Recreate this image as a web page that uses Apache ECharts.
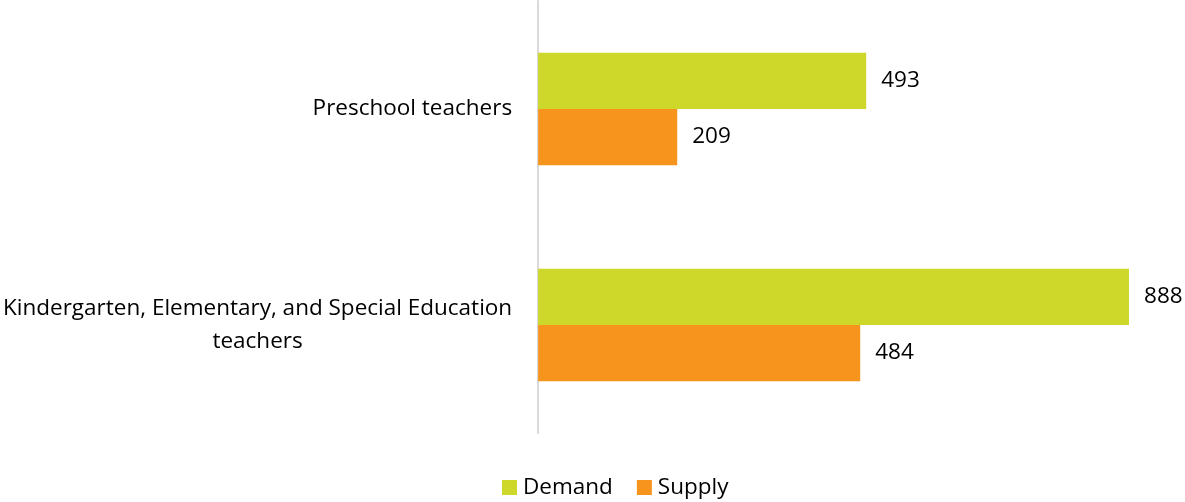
<!DOCTYPE html>
<html><head><meta charset="utf-8">
<script src="https://cdn.jsdelivr.net/npm/echarts@6/dist/echarts.min.js"></script>
<style>html,body{margin:0;padding:0;background:#fff}#c{width:1185px;height:502px}</style>
</head><body><div id="c"></div>
<script>
const categories = ['Preschool teachers', 'Kindergarten, Elementary, and Special Education\nteachers'];
const demand = [493, 888];
const supply = [209, 484];
const seriesNames = ['Demand', 'Supply'];
const font = '"Open Sans", "Noto Sans", sans-serif';
const fs = 22.5;
const chart = echarts.init(document.getElementById('c'));
chart.setOption({
  animation: false,
  grid: { left: 537, top: 1, width: 600, height: 432, containLabel: false },
  legend: {
    top: 476, left: 502, itemWidth: 15, itemHeight: 15, itemGap: 24,
    icon: 'rect', padding: 0,
    textStyle: { fontFamily: font, fontSize: fs, color: '#000', padding: [0, 0, 0, 1] },
    data: seriesNames
  },
  xAxis: { type: 'value', min: 0, max: 900, show: false, splitLine: { show: false } },
  yAxis: {
    type: 'category', inverse: true, data: categories,
    axisLine: { show: true, lineStyle: { color: '#d9d9d9', width: 2 } },
    axisTick: { show: false },
    axisLabel: {
      fontFamily: font, fontSize: fs, color: '#000', margin: 26, align: 'right',
      formatter: v => v.split('\n').map(s => '{a|' + s + '}').join('\n'),
      rich: { a: { fontFamily: font, fontSize: fs, color: '#000', align: 'center', lineHeight: 33 } }
    },
  },
  series: [
    { name: seriesNames[0], type: 'bar', data: demand, barGap: '0%', barCategoryGap: '48%',
      itemStyle: { color: '#CDD82B' },
      label: { show: true, position: 'right', distance: 15, fontFamily: font, fontSize: fs, color: '#000' } },
    { name: seriesNames[1], type: 'bar', data: supply,
      itemStyle: { color: '#F7941E' },
      label: { show: true, position: 'right', distance: 15, fontFamily: font, fontSize: fs, color: '#000' } }
  ]
});
</script></body></html>
